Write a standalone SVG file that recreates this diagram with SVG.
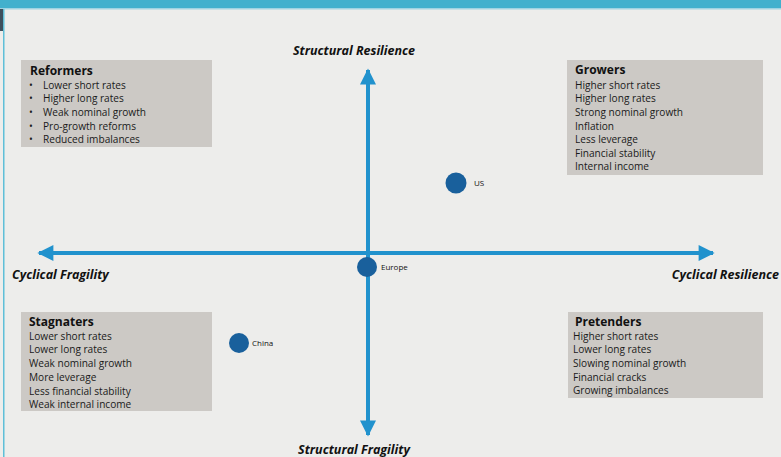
<svg xmlns="http://www.w3.org/2000/svg" width="781" height="457" viewBox="0 0 781 457">
<defs>
<style>
.box{fill:#ccc9c5}
.t{font-family:"Open Sans","Liberation Sans",sans-serif;font-size:10.1px;fill:#1a1a1a}
.h{font-family:"Open Sans","Liberation Sans",sans-serif;font-size:12px;font-weight:bold;fill:#111}
.ax{font-family:"Open Sans","Liberation Sans",sans-serif;font-size:12.5px;font-weight:bold;font-style:italic;fill:#111}
.lbl{font-family:"Open Sans","Liberation Sans",sans-serif;font-size:8px;fill:#111}
.dot{fill:#19609c}
.axis{stroke:#2192cd;stroke-width:4;fill:none}
</style>
<marker id="ah" viewBox="0 0 10 10" refX="9" refY="5" markerWidth="4.5" markerHeight="4" markerUnits="strokeWidth" orient="auto-start-reverse">
<path d="M0,0 L10,5 L0,10 Z" fill="#2192cd"/>
</marker>
</defs>
<rect width="781" height="457" fill="#ededeb"/>
<rect x="0" y="0" width="781" height="8" fill="#42b0cd"/>
<rect x="0" y="8" width="781" height="1.5" fill="#9fd3e2"/>
<rect x="3" y="9" width="1.5" height="448" fill="#5fbfd8"/>
<rect x="0" y="9" width="3" height="22" fill="#3d4f5c"/>

<g id="connectors">
<line class="axis" x1="368" y1="435" x2="368" y2="70" marker-start="url(#ah)" marker-end="url(#ah)"/>
<line class="axis" x1="39" y1="253" x2="713" y2="253" marker-start="url(#ah)" marker-end="url(#ah)"/>
</g>

<g id="axis-labels">
<text class="ax" x="354" y="55" text-anchor="middle">Structural Resilience</text>
<text class="ax" x="354" y="454" text-anchor="middle">Structural Fragility</text>
<text class="ax" x="12" y="279">Cyclical Fragility</text>
<text class="ax" x="779" y="279" text-anchor="end">Cyclical Resilience</text>
</g>

<g id="reformers">
<rect class="box" x="21" y="60" width="191" height="87"/>
<text class="h" x="30" y="75">Reformers</text>
<g class="t">
<text x="29" y="89">•<tspan x="43">Lower short rates</tspan></text>
<text x="29" y="102">•<tspan x="43">Higher long rates</tspan></text>
<text x="29" y="116">•<tspan x="43">Weak nominal growth</tspan></text>
<text x="29" y="130">•<tspan x="43">Pro-growth reforms</tspan></text>
<text x="29" y="143">•<tspan x="43">Reduced imbalances</tspan></text>
</g>
</g>

<g id="growers">
<rect class="box" x="567" y="60" width="196" height="115"/>
<text class="h" x="575" y="74">Growers</text>
<g class="t">
<text x="575" y="89">Higher short rates</text>
<text x="575" y="102">Higher long rates</text>
<text x="575" y="116">Strong nominal growth</text>
<text x="575" y="130">Inflation</text>
<text x="575" y="143">Less leverage</text>
<text x="575" y="157">Financial stability</text>
<text x="575" y="170">Internal income</text>
</g>
</g>

<g id="stagnaters">
<rect class="box" x="21" y="312" width="191" height="99"/>
<text class="h" x="29" y="326">Stagnaters</text>
<g class="t">
<text x="29" y="340">Lower short rates</text>
<text x="29" y="353">Lower long rates</text>
<text x="29" y="367">Weak nominal growth</text>
<text x="29" y="381">More leverage</text>
<text x="29" y="395">Less financial stability</text>
<text x="29" y="408">Weak internal income</text>
</g>
</g>

<g id="pretenders">
<rect class="box" x="568" y="312" width="195" height="86"/>
<text class="h" x="575" y="326">Pretenders</text>
<g class="t">
<text x="573" y="340">Higher short rates</text>
<text x="573" y="353">Lower long rates</text>
<text x="573" y="367">Slowing nominal growth</text>
<text x="573" y="381">Financial cracks</text>
<text x="573" y="394">Growing imbalances</text>
</g>
</g>

<g id="us">
<circle class="dot" cx="456" cy="183" r="10.5"/>
<text class="lbl" x="474" y="186">US</text>
</g>
<g id="europe">
<circle class="dot" cx="367" cy="267" r="10"/>
<text class="lbl" x="381" y="270">Europe</text>
</g>
<g id="china">
<circle class="dot" cx="239" cy="343" r="10"/>
<text class="lbl" x="252" y="346">China</text>
</g>
</svg>
